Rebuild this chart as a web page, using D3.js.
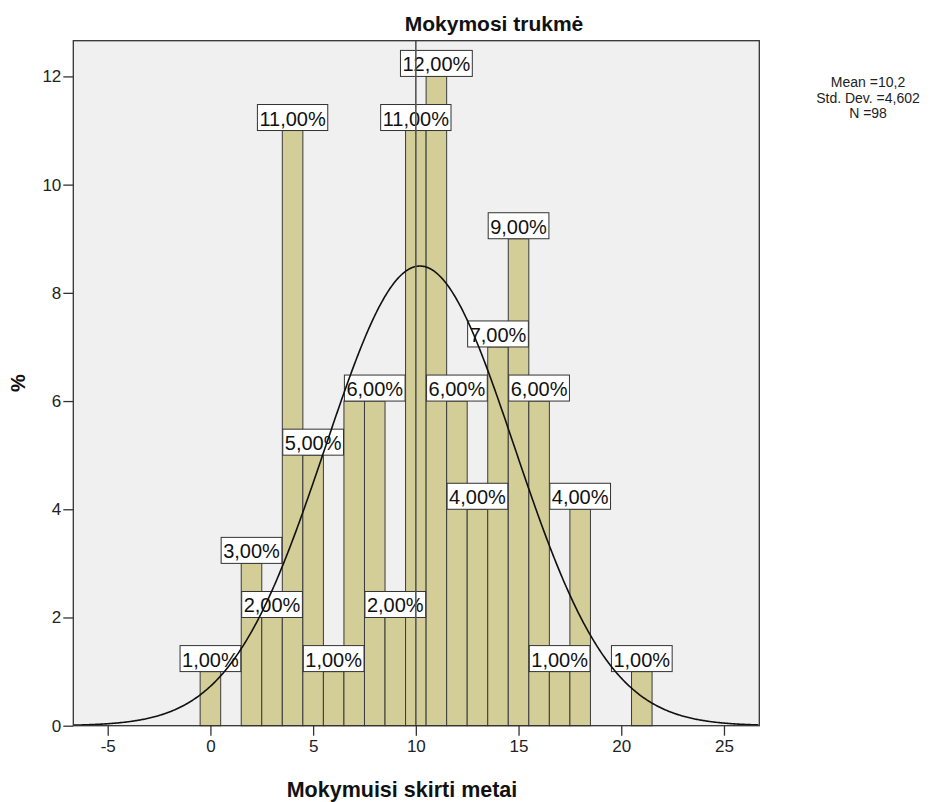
<!DOCTYPE html>
<html>
<head>
<meta charset="utf-8">
<script src="https://cdn.jsdelivr.net/npm/d3@7"></script>
<style>
  body { margin: 0; background: #fff; }
  svg { display: block; font-family: "Liberation Sans", Arial, sans-serif; }
</style>
</head>
<body>
<svg id="chart" width="950" height="802"></svg>
<script>
// Years of study (bin centres, width 1) and percentage of respondents in each bin
const years = [0, 1, 2, 3, 4, 5, 6, 7, 8, 9, 10, 11, 12, 13, 14, 15, 16, 17, 18, 19, 20, 21];
const percents = [1, 0, 3, 2, 11, 5, 1, 6, 6, 2, 11, 12, 6, 4, 7, 9, 6, 1, 4, 0, 0, 1];
const xTicks = [-5, 0, 5, 10, 15, 20, 25];
const yTicks = [0, 2, 4, 6, 8, 10, 12];
const stats = { mean: 10.2, sd: 4.602, n: 98 };
const statLines = ["Mean =10,2", "Std. Dev. =4,602", "N =98"];
const referenceX = 10;

(function () {
  const svg = d3.select("#chart");
  const plotL = 73.3, plotR = 759.3, plotT = 40.7, plotB = 725.7;

  const x = d3.scaleLinear().domain([-6.675, 26.72]).range([plotL, plotR]);
  const y = d3.scaleLinear().domain([0, 12.66]).range([plotB, plotT]);

  // plot background
  svg.append("rect")
    .attr("x", plotL).attr("y", plotT)
    .attr("width", plotR - plotL).attr("height", plotB - plotT)
    .attr("fill", "#f0f0f0");

  // histogram bars
  const bins = years.map((c, i) => ({ c, v: percents[i] })).filter(d => d.v > 0);
  svg.append("g").selectAll("rect").data(bins).join("rect")
    .attr("x", d => x(d.c - 0.5))
    .attr("y", d => y(d.v))
    .attr("width", d => x(d.c + 0.5) - x(d.c - 0.5))
    .attr("height", d => y(0) - y(d.v))
    .attr("fill", "#d3ce97")
    .attr("stroke", "#3a3a3a")
    .attr("stroke-width", 1);

  // value labels: boxed, sitting on top of each bar
  const fmt = v => v.toFixed(2).replace(".", ",") + "%";
  const lab = svg.append("g").selectAll("g").data(bins).join("g");
  lab.append("rect");
  lab.append("text")
    .attr("x", d => x(d.c))
    .attr("y", d => y(d.v) - 5)
    .attr("text-anchor", "middle")
    .attr("font-size", 20)
    .attr("fill", "#111")
    .text(d => fmt(d.v));
  lab.each(function (d) {
    const g = d3.select(this);
    const w = g.select("text").node().getComputedTextLength() + 4;
    d.box = { x0: x(d.c) - w / 2, x1: x(d.c) + w / 2, y0: y(d.v) - 26, y1: y(d.v) };
    g.select("rect")
      .attr("x", d.box.x0)
      .attr("y", d.box.y0)
      .attr("width", w)
      .attr("height", 26)
      .attr("fill", "#fff")
      .attr("stroke", "#333")
      .attr("stroke-width", 1);
  });
  // drop a label when a later label's box collides with it
  const hit = (a, b) => a.x0 < b.x1 && b.x0 < a.x1 && a.y0 < b.y1 && b.y0 < a.y1;
  lab.filter((d, i) => bins.some((e, j) => j > i && hit(d.box, e.box))).remove();

  // fitted normal curve, scaled to the percentage axis
  const pdf = t => Math.exp(-0.5 * ((t - stats.mean) / stats.sd) ** 2) / (stats.sd * Math.sqrt(2 * Math.PI));
  const curvePts = d3.range(-6.675, 26.72, 0.05).map(t => [t, stats.n * pdf(t)]);
  svg.append("path")
    .datum(curvePts)
    .attr("fill", "none")
    .attr("stroke", "#111")
    .attr("stroke-width", 1.6)
    .attr("d", d3.line().x(d => x(d[0])).y(d => y(d[1])));

  // reference line
  svg.append("line")
    .attr("x1", x(referenceX)).attr("x2", x(referenceX))
    .attr("y1", plotT).attr("y2", plotB)
    .attr("stroke", "#555")
    .attr("stroke-width", 1.6);

  // frame
  svg.append("rect")
    .attr("x", plotL).attr("y", plotT)
    .attr("width", plotR - plotL).attr("height", plotB - plotT)
    .attr("fill", "none")
    .attr("stroke", "#333")
    .attr("stroke-width", 1.3);

  // axes
  const xAxis = svg.append("g")
    .attr("transform", `translate(0,${plotB})`)
    .call(d3.axisBottom(x).tickValues(xTicks).tickSize(10).tickPadding(4).tickFormat(d => String(d)));
  const yAxis = svg.append("g")
    .attr("transform", `translate(${plotL},0)`)
    .call(d3.axisLeft(y).tickValues(yTicks).tickSize(10).tickPadding(2).tickFormat(d => String(d)));
  [xAxis, yAxis].forEach(a => {
    a.select(".domain").remove();
    a.selectAll("line").attr("stroke", "#333").attr("stroke-width", 1.3);
    a.selectAll("text").attr("font-size", 17).attr("fill", "#222")
      .attr("font-family", "'Liberation Sans', Arial, sans-serif");
  });

  // titles
  svg.append("text")
    .attr("x", 494).attr("y", 31)
    .attr("text-anchor", "middle")
    .attr("font-size", 21).attr("font-weight", "bold").attr("fill", "#111")
    .text("Mokymosi trukmė");

  svg.append("text")
    .attr("x", 402).attr("y", 797)
    .attr("text-anchor", "middle")
    .attr("font-size", 21.5).attr("font-weight", "bold").attr("fill", "#111")
    .text("Mokymuisi skirti metai");

  svg.append("text")
    .attr("transform", "translate(25,383) rotate(-90)")
    .attr("text-anchor", "middle")
    .attr("font-size", 20).attr("font-weight", "bold").attr("fill", "#111")
    .text("%");

  // summary statistics
  svg.append("g").selectAll("text").data(statLines).join("text")
    .attr("x", 868)
    .attr("y", (d, i) => 87 + i * 15.5)
    .attr("text-anchor", "middle")
    .attr("font-size", 14)
    .attr("fill", "#222")
    .text(d => d);
})();
</script>
</body>
</html>
